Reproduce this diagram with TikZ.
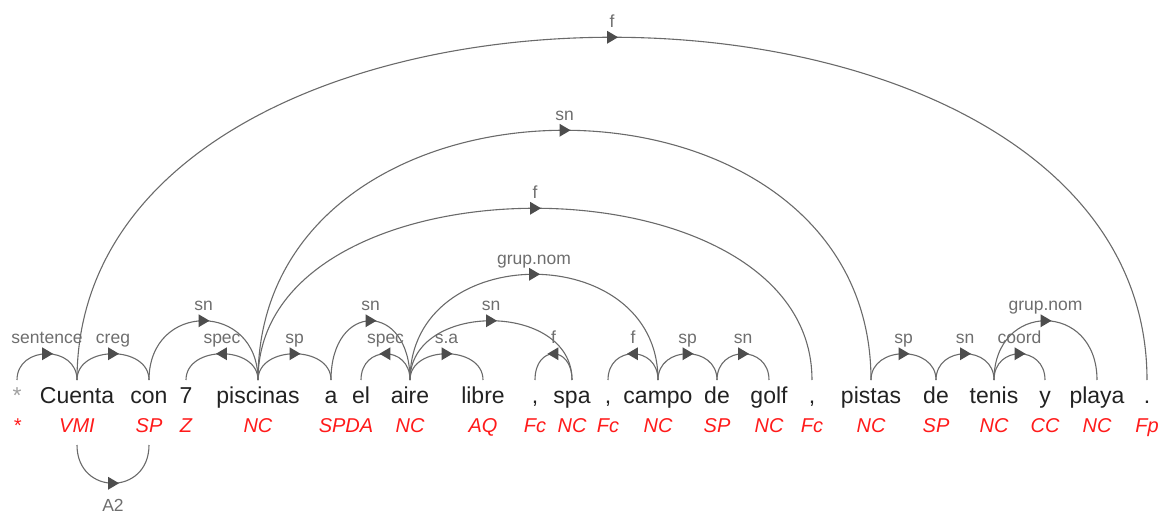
\documentclass[tikz,border=0pt]{standalone}
\usepackage{fontspec}
\setmainfont{Liberation Sans}
\usetikzlibrary{decorations.markings}
\definecolor{wordgray}{HTML}{222222}
\definecolor{stargray}{HTML}{A0A0A0}
\definecolor{tagred}{HTML}{FF1A1A}
\definecolor{labelgray}{HTML}{6E6E6E}
\definecolor{arcgray}{HTML}{6A6A6A}
\definecolor{headgray}{HTML}{4D4D4D}

\begin{document}
\begin{tikzpicture}[x=1pt, y=-1pt,
    word/.style={anchor=base, inner sep=0pt, outer sep=0pt, text height=23pt, text=wordgray, font=\fontsize{23}{23}\selectfont},
    tag/.style={anchor=base, inner sep=0pt, outer sep=0pt, text depth=12.5pt, text=tagred, font=\fontsize{20}{20}\selectfont\itshape},
    dep/.style={draw=arcgray, line width=1.1pt, postaction={decorate, decoration={markings, mark=at position 0.5 with {\fill[headgray] (-5pt,-6.5pt) -- (6pt,0pt) -- (-5pt,6.5pt) -- cycle;}}}},
    lab/.style={anchor=base, inner sep=0pt, yshift=10pt, text=labelgray, font=\fontsize{17.5}{17.5}\selectfont}]
  \useasboundingbox (0,0) rectangle (1160,514);

  \node[word, text=stargray] (w0) at (17,403) {*};
  \node[word] (w1) at (77,403) {Cuenta};
  \node[word] (w2) at (149,403) {con};
  \node[word] (w3) at (186,403) {7};
  \node[word] (w4) at (258,403) {piscinas};
  \node[word] (w5) at (331,403) {a};
  \node[word] (w6) at (361,403) {el};
  \node[word] (w7) at (410,403) {aire};
  \node[word] (w8) at (483,403) {libre};
  \node[word] (w9) at (535,403) {,};
  \node[word] (w10) at (572,403) {spa};
  \node[word] (w11) at (608,403) {,};
  \node[word] (w12) at (658,403) {campo};
  \node[word] (w13) at (717,403) {de};
  \node[word] (w14) at (769,403) {golf};
  \node[word] (w15) at (812,403) {,};
  \node[word] (w16) at (871,403) {pistas};
  \node[word] (w17) at (936,403) {de};
  \node[word] (w18) at (994,403) {tenis};
  \node[word] (w19) at (1045,403) {y};
  \node[word] (w20) at (1097,403) {playa};
  \node[word] (w21) at (1147,403) {.};

  \node[tag] (t0) at (17,432.5) {*};
  \node[tag] (t1) at (77,432.5) {VMI};
  \node[tag] (t2) at (149,432.5) {SP};
  \node[tag] (t3) at (186,432.5) {Z};
  \node[tag] (t4) at (258,432.5) {NC};
  \node[tag] (t5) at (346,432.5) {SPDA};
  \node[tag] (t7) at (410,432.5) {NC};
  \node[tag] (t8) at (483,432.5) {AQ};
  \node[tag] (t9) at (535,432.5) {Fc};
  \node[tag] (t10) at (572,432.5) {NC};
  \node[tag] (t11) at (608,432.5) {Fc};
  \node[tag] (t12) at (658,432.5) {NC};
  \node[tag] (t13) at (717,432.5) {SP};
  \node[tag] (t14) at (769,432.5) {NC};
  \node[tag] (t15) at (812,432.5) {Fc};
  \node[tag] (t16) at (871,432.5) {NC};
  \node[tag] (t17) at (936,432.5) {SP};
  \node[tag] (t18) at (994,432.5) {NC};
  \node[tag] (t19) at (1045,432.5) {CC};
  \node[tag] (t20) at (1097,432.5) {NC};
  \node[tag] (t21) at (1147,432.5) {Fp};

  \draw[dep] (w0.north) .. controls +(0,-35) and +(0,-35) .. (w1.north) node[lab, pos=0.5] {sentence};
  \draw[dep] (w1.north) .. controls +(0,-35) and +(0,-35) .. (w2.north) node[lab, pos=0.5] {creg};
  \draw[dep] (w2.north) .. controls +(0,-79) and +(0,-79) .. (w4.north) node[lab, pos=0.5] {sn};
  \draw[dep] (w4.north) .. controls +(0,-35) and +(0,-35) .. (w3.north) node[lab, pos=0.5] {spec};
  \draw[dep] (w4.north) .. controls +(0,-35) and +(0,-35) .. (w5.north) node[lab, pos=0.5] {sp};
  \draw[dep] (w5.north) .. controls +(0,-79) and +(0,-79) .. (w7.north) node[lab, pos=0.5] {sn};
  \draw[dep] (w7.north) .. controls +(0,-35) and +(0,-35) .. (w6.north) node[lab, pos=0.5] {spec};
  \draw[dep] (w7.north) .. controls +(0,-35) and +(0,-35) .. (w8.north) node[lab, pos=0.5] {s.a};
  \draw[dep] (w7.north) .. controls +(0,-79) and +(0,-79) .. (w10.north) node[lab, pos=0.5] {sn};
  \draw[dep] (w10.north) .. controls +(0,-35) and +(0,-35) .. (w9.north) node[lab, pos=0.5] {f};
  \draw[dep] (w7.north) .. controls +(0,-141) and +(0,-141) .. (w12.north) node[lab, pos=0.5] {grup.nom};
  \draw[dep] (w12.north) .. controls +(0,-35) and +(0,-35) .. (w11.north) node[lab, pos=0.5] {f};
  \draw[dep] (w12.north) .. controls +(0,-35) and +(0,-35) .. (w13.north) node[lab, pos=0.5] {sp};
  \draw[dep] (w13.north) .. controls +(0,-35) and +(0,-35) .. (w14.north) node[lab, pos=0.5] {sn};
  \draw[dep] (w4.north) .. controls +(0,-229) and +(0,-229) .. (w15.north) node[lab, pos=0.5] {f};
  \draw[dep] (w4.north) .. controls +(0,-333) and +(0,-333) .. (w16.north) node[lab, pos=0.5] {sn};
  \draw[dep] (w1.north) .. controls +(0,-457) and +(0,-457) .. (w21.north) node[lab, pos=0.5] {f};
  \draw[dep] (w16.north) .. controls +(0,-35) and +(0,-35) .. (w17.north) node[lab, pos=0.5] {sp};
  \draw[dep] (w17.north) .. controls +(0,-35) and +(0,-35) .. (w18.north) node[lab, pos=0.5] {sn};
  \draw[dep] (w18.north) .. controls +(0,-35) and +(0,-35) .. (w19.north) node[lab, pos=0.5] {coord};
  \draw[dep] (w18.north) .. controls +(0,-79) and +(0,-79) .. (w20.north) node[lab, pos=0.5] {grup.nom};
  \draw[dep] (t1.south) .. controls +(0,51) and +(0,51) .. (t2.south) node[lab, pos=0.5, yshift=-38.5pt] {A2};
\end{tikzpicture}
\end{document}
